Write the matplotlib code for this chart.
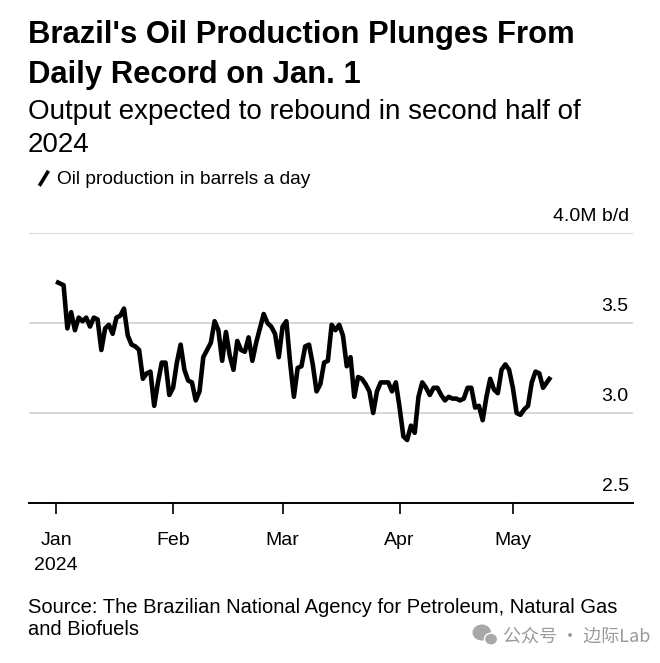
import matplotlib
matplotlib.use("Agg")
import matplotlib.pyplot as plt
import matplotlib.dates as mdates
import matplotlib.transforms as mtransforms
from matplotlib.patches import Ellipse
import pandas as pd

# Daily Brazilian oil production, million barrels a day
start = "2024-01-01"
production = [
    3.73, 3.72, 3.71, 3.47, 3.56, 3.46, 3.53, 3.51, 3.53,
    3.48, 3.53, 3.52, 3.35, 3.47, 3.49, 3.44, 3.53, 3.54, 3.58,
    3.43, 3.38, 3.37, 3.35, 3.19, 3.22, 3.23, 3.04, 3.17, 3.28,
    3.28, 3.10, 3.14, 3.28, 3.38, 3.24, 3.18, 3.17, 3.07, 3.12,
    3.31, 3.35, 3.39, 3.51, 3.46, 3.29, 3.45, 3.32, 3.24,
    3.40, 3.35, 3.34, 3.42, 3.29, 3.39, 3.47, 3.55, 3.50, 3.48,
    3.44, 3.31, 3.48, 3.51, 3.28, 3.09, 3.25, 3.26, 3.37, 3.38,
    3.27, 3.12, 3.16, 3.28, 3.29, 3.49, 3.46, 3.49, 3.43, 3.26,
    3.31, 3.09, 3.20, 3.19, 3.16, 3.12, 3.00, 3.12, 3.17, 3.17,
    3.17, 3.12, 3.17, 3.03, 2.87, 2.85, 2.93, 2.89, 3.09, 3.17,
    3.14, 3.10, 3.14, 3.14, 3.10, 3.07, 3.09, 3.08, 3.08, 3.07,
    3.08, 3.14, 3.14, 3.03, 3.04, 2.96, 3.09, 3.19, 3.13, 3.11,
    3.24, 3.27, 3.24, 3.14, 3.00, 2.99, 3.02, 3.04, 3.17, 3.23,
    3.22, 3.14, 3.17, 3.20,
]
dates = pd.date_range(start, periods=len(production), freq="D")

y_ticks = [2.5, 3.0, 3.5, 4.0]
y_labels = ["2.5", "3.0", "3.5", "4.0M b/d"]
month_ticks = pd.date_range("2024-01-01", "2024-05-01", freq="MS")
month_labels = ["Jan\n2024", "Feb", "Mar", "Apr", "May"]

title = "Brazil's Oil Production Plunges From\nDaily Record on Jan. 1"
subtitle = "Output expected to rebound in second half of\n2024"
legend_text = "Oil production in barrels a day"
source_lines = ["Source: The Brazilian National Agency for Petroleum, Natural Gas",
                "and Biofuels"]
watermark = "公众号 · 边际Lab"

plt.rcParams["font.family"] = ["Liberation Sans", "DejaVu Sans"]

fig = plt.figure(figsize=(6.6, 6.63), dpi=100)
ax = fig.add_axes([0.044, 0.2413, 0.915, 0.4073])

ax.plot(dates, production, color="black", lw=3.3, solid_joinstyle="round",
        solid_capstyle="butt", zorder=3)

jan1 = mdates.date2num(pd.Timestamp(start))
ax.set_ylim(2.5, 4.0)
ax.set_xlim(jan1 - 7.15, jan1 + 152.8)

for v in y_ticks[1:]:
    ax.axhline(v, color="#d4d4d4", lw=1.3, zorder=1)

for s in ["top", "left", "right"]:
    ax.spines[s].set_visible(False)
ax.spines["bottom"].set_color("black")
ax.spines["bottom"].set_linewidth(1.4)

ax.set_yticks([])
ax.set_xticks(month_ticks)
ax.set_xticklabels(month_labels, fontsize=14, linespacing=1.6)
ax.tick_params(axis="x", length=8, width=1.2, pad=13, color="black")

# value labels sit above each gridline, flush right
trans = mtransforms.blended_transform_factory(ax.transAxes, ax.transData)
offset = mtransforms.ScaledTranslation(0, 6 / 72, fig.dpi_scale_trans)
for v, lab in zip(y_ticks, y_labels):
    ax.text(0.993, v, lab, transform=trans + offset, ha="right", va="bottom",
            fontsize=14)

fig.text(0.042, 0.970, title, fontsize=22.3, fontweight="bold", va="top",
         linespacing=1.45)
fig.text(0.042, 0.851, subtitle, fontsize=20, va="top", linespacing=1.38)

# legend: short slanted stroke + label
fig.lines.append(plt.Line2D([0.061, 0.072], [0.722, 0.740], color="black",
                            lw=2.6, transform=fig.transFigure))
fig.text(0.086, 0.730, legend_text, fontsize=13.8, va="center")

fig.text(0.042, 0.084, source_lines[0], fontsize=14.5, va="center")
fig.text(0.042, 0.051, source_lines[1], fontsize=14.5, va="center")

# watermark with a small chat-bubble mark
fig.add_artist(Ellipse((0.730, 0.046), 0.026, 0.022, color="#a8a8a8",
                       transform=fig.transFigure))
fig.add_artist(Ellipse((0.744, 0.036), 0.020, 0.018, color="#a8a8a8",
                       ec="white", lw=1, transform=fig.transFigure))
fig.text(0.985, 0.040, watermark, fontsize=13, color="#9a9a9a",
         ha="right", va="center",
         family=["Noto Sans CJK SC", "DejaVu Sans"])

fig.savefig("out.png", dpi=100)
